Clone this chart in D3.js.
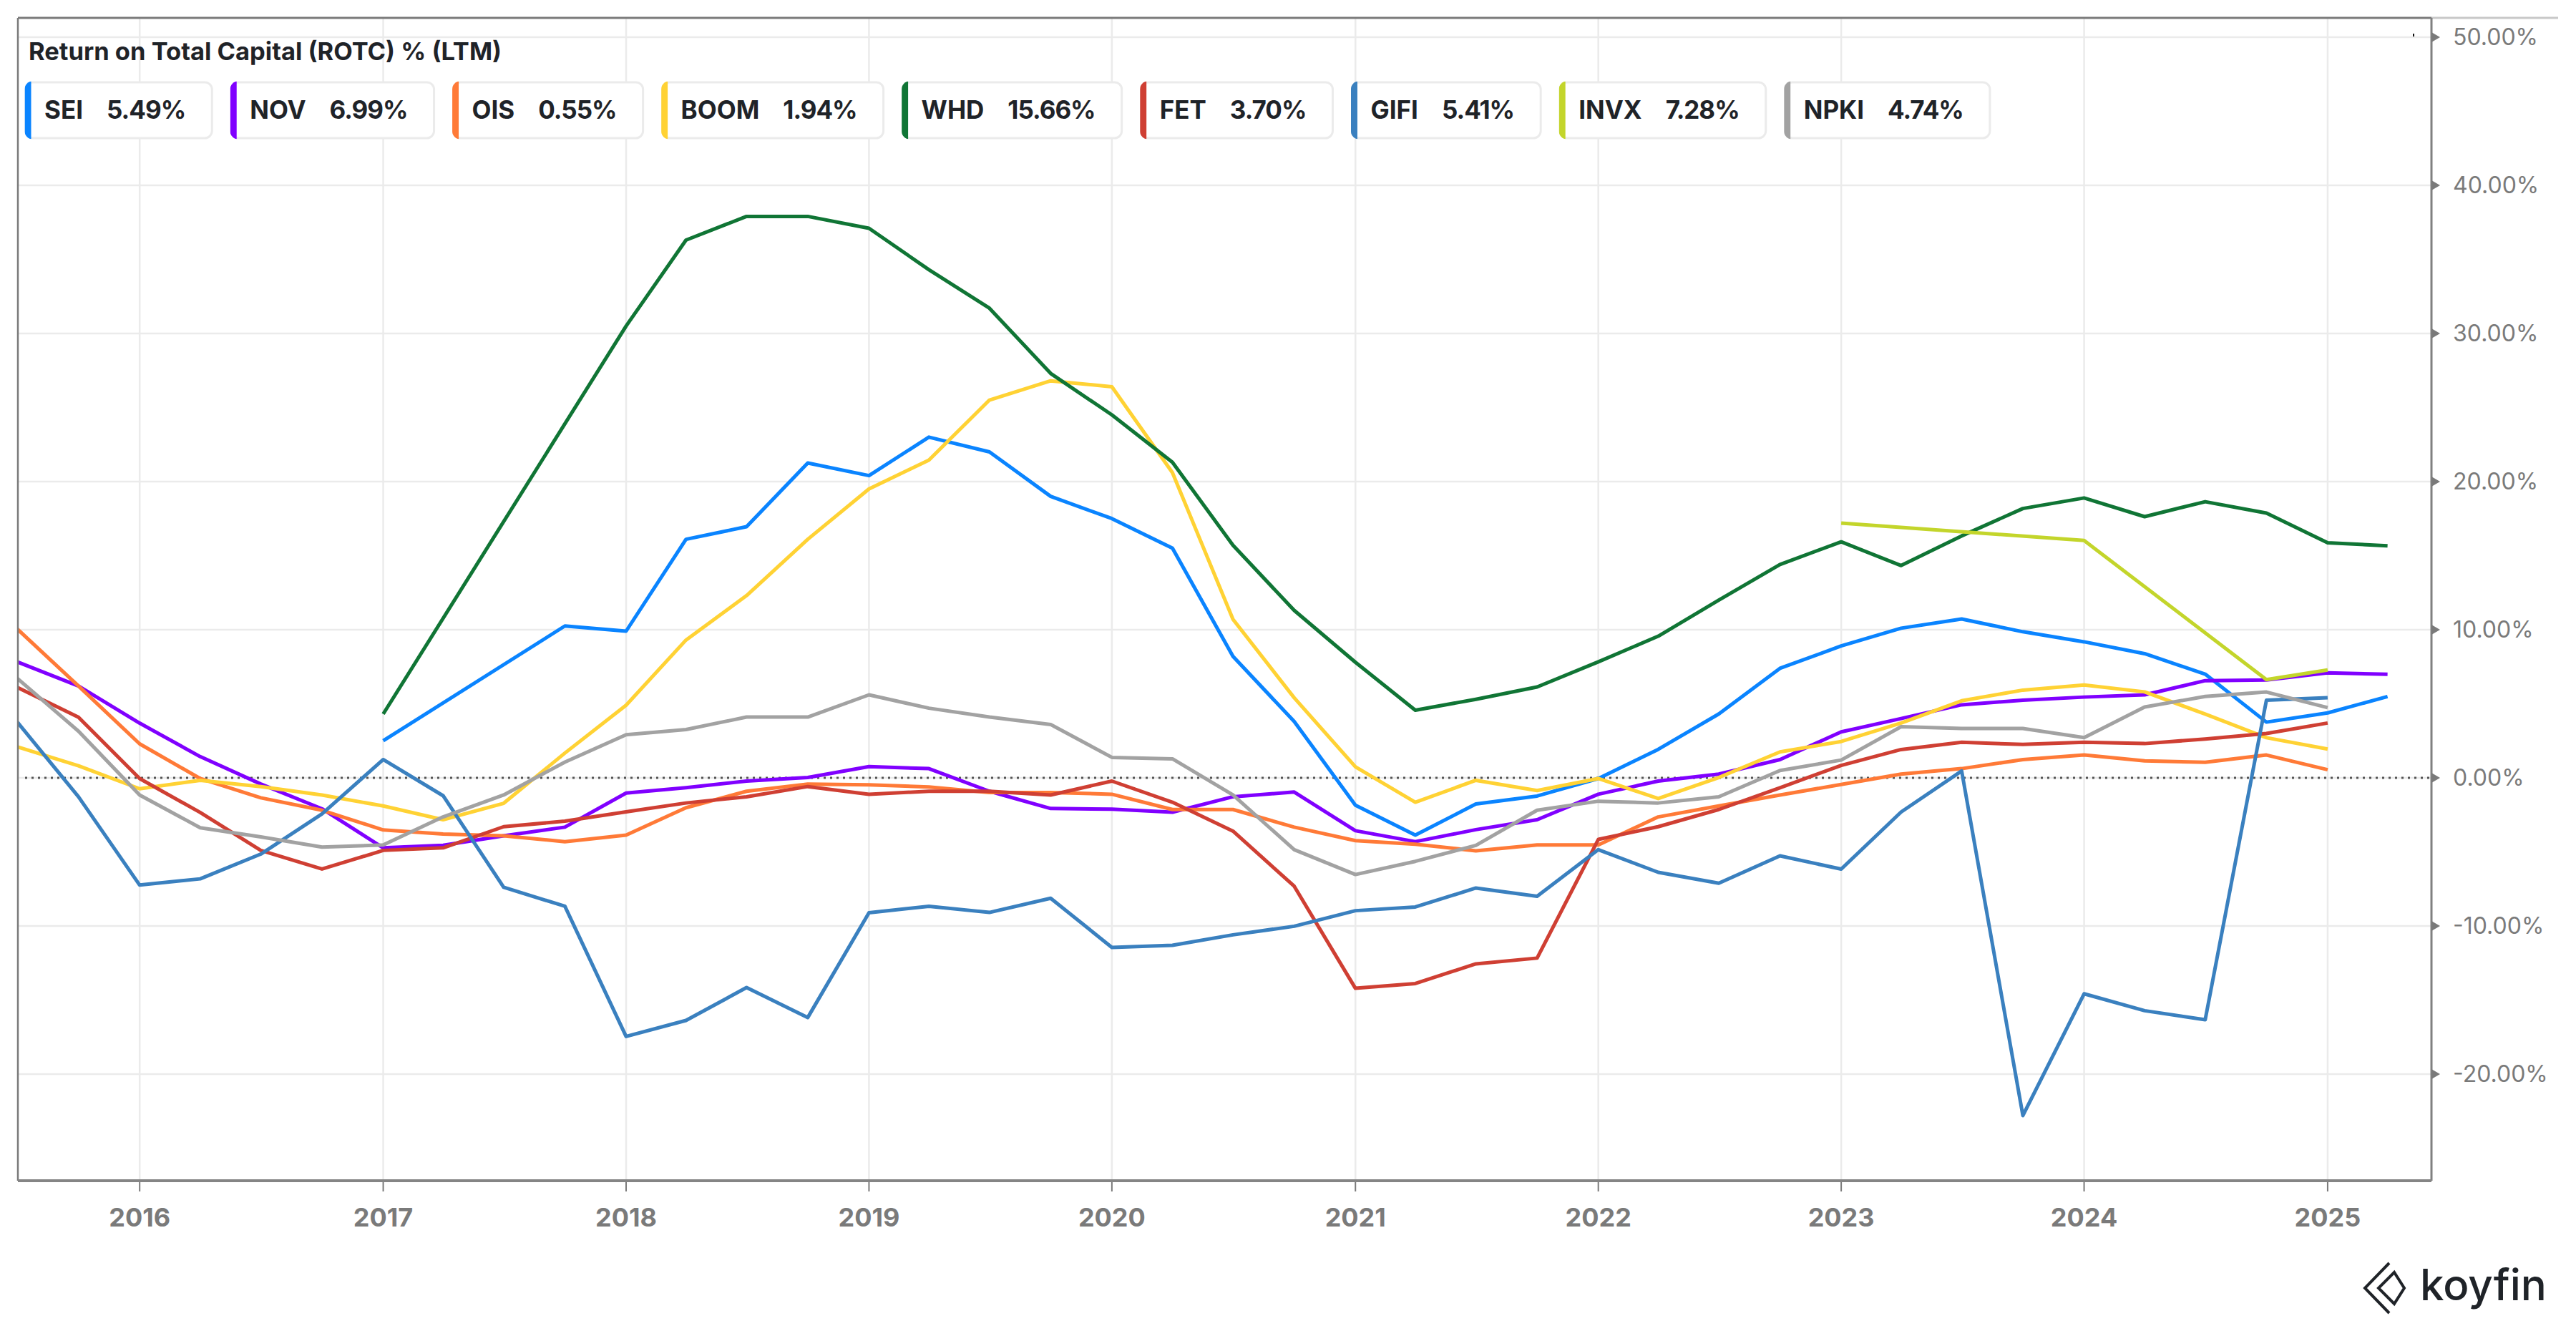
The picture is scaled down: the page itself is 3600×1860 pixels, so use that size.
<!DOCTYPE html>
<html>
  <head>
    <meta charset="utf-8">
    <title>Return on Total Capital (ROTC) % (LTM)</title>
    <script src="https://d3js.org/d3.v7.min.js"></script>
    <style>
      body { margin: 0; background: #fff; }
      svg { display: block; font-family: Inter, "Noto Sans", sans-serif; }
    </style>
  </head>
  <body>
    <svg id="chart" width="3600" height="1860"></svg>
    <script>
      // quarterly dates (LTM values)
      quarters = [
        "2015-07-01", "2015-10-01",
        "2016-01-01", "2016-04-01", "2016-07-01", "2016-10-01",
        "2017-01-01", "2017-04-01", "2017-07-01", "2017-10-01",
        "2018-01-01", "2018-04-01", "2018-07-01", "2018-10-01",
        "2019-01-01", "2019-04-01", "2019-07-01", "2019-10-01",
        "2020-01-01", "2020-04-01", "2020-07-01", "2020-10-01",
        "2021-01-01", "2021-04-01", "2021-07-01", "2021-10-01",
        "2022-01-01", "2022-04-01", "2022-07-01", "2022-10-01",
        "2023-01-01", "2023-04-01", "2023-07-01", "2023-10-01",
        "2024-01-01", "2024-04-01", "2024-07-01", "2024-10-01",
        "2025-01-01", "2025-04-01"
      ];
      tickers = ["SEI", "NOV", "OIS", "BOOM", "WHD", "FET", "GIFI", "INVX", "NPKI"];
      colors = ["#0a84ff", "#8000ff", "#ff7a37", "#ffd234", "#107535", "#cf3f33", "#3a80bf", "#c3d52b", "#a2a2a2"];
      // ROTC %, one value per quarter (null = no figure)
      SEI = [null, null, null, null, null, null, 2.5, null, null, 10.25,
        9.9, 16.1, 16.95, 21.25, 20.4, 23.0, 22.0, 19.0, 17.5, 15.5,
        8.2, 3.8, -1.85, -3.87, -1.77, -1.23, -0.05, 1.92, 4.31, 7.39,
        8.9, 10.1, 10.72, 9.86, 9.18, 8.38, 7.0, 3.76, 4.38, 5.49];
      NOV = [7.83, 6.2, 3.69, 1.43, -0.42, -2.09, -4.73, -4.56, -3.92, -3.33,
        -1.03, -0.67, -0.22, 0.02, 0.76, 0.62, -0.91, -2.07, -2.12, -2.32,
        -1.28, -0.96, -3.57, -4.31, -3.5, -2.83, -1.11, -0.22, 0.25, 1.23,
        3.1, 4.0, 4.93, 5.24, 5.45, 5.6, 6.56, 6.6, 7.09, 6.99];
      OIS = [10.05, 6.2, 2.29, -0.05, -1.35, -2.19, -3.52, -3.79, -3.92, -4.31,
        -3.87, -2.02, -0.91, -0.42, -0.47, -0.62, -0.99, -0.99, -1.11, -2.14,
        -2.14, -3.33, -4.24, -4.48, -4.93, -4.53, -4.53, -2.64, -1.9, -1.16,
        -0.45, 0.25, 0.62, 1.23, 1.54, 1.14, 1.05, 1.54, 0.55, null];
      BOOM = [2.09, 0.81, -0.74, -0.17, -0.59, -1.16, -1.9, -2.83, -1.72, 1.67,
        4.9, 9.3, 12.3, 16.1, 19.5, 21.45, 25.5, 26.8, 26.4, 20.6,
        10.7, 5.4, 0.74, -1.65, -0.17, -0.86, -0.05, -1.4, 0.02, 1.75,
        2.45, 3.7, 5.2, 5.92, 6.26, 5.8, 4.3, 2.71, 1.94, null];
      WHD = [null, null, null, null, null, null, 4.31, null, null, null,
        30.5, 36.3, 37.9, 37.9, 37.1, 34.3, 31.7, 27.3, 24.5, 21.3,
        15.7, 11.3, 7.8, 4.56, 5.3, 6.13, 7.83, 9.56, 12.0, 14.4,
        15.93, 14.33, 16.33, 18.18, 18.89, 17.63, 18.64, 17.87, 15.87, 15.66];
      FET = [6.11, 4.09, -0.05, -2.34, -4.9, -6.16, -4.9, -4.73, -3.3, -2.93,
        -2.3, -1.7, -1.28, -0.59, -1.11, -0.91, -0.91, -1.16, -0.22, -1.65,
        -3.6, -7.32, -14.21, -13.89, -12.56, -12.17, -4.16, -3.3, -2.14, -0.67,
        0.84, 1.91, 2.4, 2.25, 2.4, 2.31, 2.62, 2.99, 3.7, null];
      GIFI = [3.77, -1.28, -7.24, -6.82, -5.15, -2.44, 1.23, -1.21, -7.39, -8.67,
        -17.46, -16.38, -14.16, -16.18, -9.11, -8.67, -9.09, -8.13, -11.45, -11.31,
        -10.6, -10.02, -8.97, -8.72, -7.44, -8.0, -4.85, -6.38, -7.12, -5.27,
        -6.16, -2.31, 0.46, -22.8, -14.58, -15.72, -16.33, 5.24, 5.41, null];
      INVX = [null, null, null, null, null, null, null, null, null, null,
        null, null, null, null, null, null, null, null, null, null,
        null, null, null, null, null, null, null, null, null, null,
        17.2, null, null, null, 16.02, null, null, 6.63, 7.28, null];
      NPKI = [6.72, 3.15, -1.16, -3.37, -3.99, -4.68, -4.53, -2.64, -1.16, 1.06,
        2.91, 3.26, 4.1, 4.1, 5.6, 4.7, 4.1, 3.6, 1.38, 1.28,
        -1.16, -4.85, -6.53, -5.64, -4.56, -2.19, -1.58, -1.7, -1.28, 0.49,
        1.2, 3.45, 3.33, 3.33, 2.71, 4.78, 5.49, 5.79, 4.74, null];
      yTicks = [-20, -10, 0, 10, 20, 30, 40, 50];
      seriesValues = [SEI, NOV, OIS, BOOM, WHD, FET, GIFI, INVX, NPKI];

      // page elements
      svg = d3.select("#chart");
      left = 25; right = 3398; plotTop = 25; bottom = 1650;
      parseDate = d3.timeParse("%Y-%m-%d");
      dates = quarters.map(parseDate);
      x = d3.scaleTime()
        .domain([new Date(2015, 6, 2), new Date(2025, 5, 6)])
        .range([left, right]);
      y = d3.scaleLinear()
        .domain([-27.2, 51.3])
        .range([bottom, plotTop]);
      pct = function(v) { return d3.format(".2f")(v).replace("\u2212", "-") + "%"; };

      // grid
      grid = svg.append("g");
      years = x.ticks(d3.timeYear);
      grid.selectAll(".vgrid")
        .data(years)
        .enter().append("line")
          .attr("x1", function(d) { return x(d); })
          .attr("x2", function(d) { return x(d); })
          .attr("y1", plotTop).attr("y2", bottom)
          .attr("stroke", "#ebebeb").attr("stroke-width", 2.5);
      grid.selectAll(".hgrid")
        .data(yTicks)
        .enter().append("line")
          .attr("x1", left).attr("x2", right)
          .attr("y1", function(d) { return y(d); })
          .attr("y2", function(d) { return y(d); })
          .attr("stroke", "#ebebeb").attr("stroke-width", 2.5);
      svg.append("line")
        .attr("x1", left + 10).attr("x2", right)
        .attr("y1", y(0)).attr("y2", y(0))
        .attr("stroke", "#555").attr("stroke-width", 3)
        .attr("stroke-dasharray", "3,6");

      // lines
      svg.append("clipPath").attr("id", "plotClip")
        .append("rect")
          .attr("x", left).attr("y", plotTop)
          .attr("width", right - left).attr("height", bottom - plotTop);
      line = d3.line()
        .x(function(d) { return x(d.date); })
        .y(function(d) { return y(d.value); });
      series = tickers.map(function(t, i) {
        return {
          ticker: t,
          color: colors[i],
          points: seriesValues[i]
            .map(function(v, j) { return { date: dates[j], value: v }; })
            .filter(function(d) { return d.value !== null; })
        };
      });
      svg.append("g")
        .attr("clip-path", "url(#plotClip)")
        .selectAll("path")
          .data(series)
        .enter().append("path")
          .attr("fill", "none")
          .attr("stroke", function(d) { return d.color; })
          .attr("stroke-width", 5)
          .attr("stroke-linejoin", "round")
          .attr("d", function(d) { return line(d.points); });

      // frame
      frame = svg.append("g").attr("stroke", "#7a7a7a").attr("fill", "none");
      frame.append("line").attr("x1", right).attr("x2", 3575).attr("y1", plotTop).attr("y2", plotTop)
        .attr("stroke", "#c8c8c8").attr("stroke-width", 3);
      frame.append("line").attr("x1", left).attr("x2", right).attr("y1", plotTop).attr("y2", plotTop)
        .attr("stroke-width", 3);
      frame.append("line").attr("x1", left).attr("x2", left).attr("y1", plotTop).attr("y2", bottom)
        .attr("stroke-width", 2.5);
      frame.append("line").attr("x1", right).attr("x2", right).attr("y1", plotTop).attr("y2", bottom)
        .attr("stroke", "#808080").attr("stroke-width", 3);
      frame.append("line").attr("x1", left).attr("x2", right).attr("y1", bottom).attr("y2", bottom)
        .attr("stroke", "#858585").attr("stroke-width", 4);
      svg.append("rect").attr("x", 3372).attr("y", 47).attr("width", 2).attr("height", 4).attr("fill", "#111");

      // x axis
      xAxis = svg.append("g");
      xAxis.selectAll("line")
        .data(years)
        .enter().append("line")
          .attr("x1", function(d) { return x(d); })
          .attr("x2", function(d) { return x(d); })
          .attr("y1", bottom + 2).attr("y2", bottom + 15)
          .attr("stroke", "#7a7a7a").attr("stroke-width", 2);
      xAxis.selectAll("text")
        .data(years)
        .enter().append("text")
          .attr("x", function(d) { return x(d); })
          .attr("y", 1714)
          .attr("text-anchor", "middle")
          .attr("font-size", 36).attr("font-weight", 700)
          .attr("fill", "#7a7a7a")
          .text(d3.timeFormat("%Y"));

      // y axis (right)
      yAxis = svg.append("g");
      yAxis.selectAll("path")
        .data(yTicks)
        .enter().append("path")
          .attr("fill", "#7a7a7a")
          .attr("d", function(d) { return "M" + right + "," + (y(d) - 7) + "L" + (right + 12) + "," + y(d) + "L" + right + "," + (y(d) + 7) + "Z"; });
      yAxis.selectAll("text")
        .data(yTicks)
        .enter().append("text")
          .attr("x", 3428)
          .attr("y", function(d) { return y(d) + 11; })
          .attr("font-size", 32)
          .attr("fill", "#7a7a7a")
          .text(pct);

      // title
      svg.append("text")
        .attr("x", 40).attr("y", 84)
        .attr("font-size", 34.5).attr("font-weight", 700)
        .attr("fill", "#1f2328")
        .text("Return on Total Capital (ROTC) % (LTM)");

      // legend
      legend = svg.append("g");
      let boxX = 36;
      const boxY = 115, boxH = 78;
      series.forEach(function(s, i) {
        const g = legend.append("g");
        const last = s.points[s.points.length - 1].value;
        const label = g.append("text").attr("y", 166).attr("font-size", 35).attr("font-weight", 700)
          .attr("fill", "#1f2328").text(s.ticker);
        const val = g.append("text").attr("y", 166).attr("font-size", 35).attr("font-weight", 700)
          .attr("letter-spacing", -1)
          .attr("fill", "#1f2328").text(pct(last));
        const labelW = label.node().getComputedTextLength();
        const valW = val.node().getComputedTextLength();
        const w = 26 + labelW + 33 + valW + 37;
        label.attr("x", boxX + 26);
        val.attr("x", boxX + 26 + labelW + 33);
        g.insert("rect", "text")
          .attr("x", boxX).attr("y", boxY).attr("width", w).attr("height", boxH)
          .attr("rx", 10).attr("fill", "#fff").attr("stroke", "#ebebeb").attr("stroke-width", 3);
        g.append("clipPath").attr("id", "lg" + i)
          .append("rect").attr("x", boxX - 1.5).attr("y", boxY - 1.5)
            .attr("width", w + 3).attr("height", boxH + 3).attr("rx", 11);
        g.append("rect")
          .attr("clip-path", "url(#lg" + i + ")")
          .attr("x", boxX - 1.5).attr("y", boxY - 1.5).attr("width", 9).attr("height", boxH + 3)
          .attr("fill", s.color);
        boxX += w + 27;
      });

      // logo
      logo = svg.append("g");
      logo.append("path")
        .attr("fill", "none").attr("stroke", "#1f2328").attr("stroke-width", 4).attr("stroke-linejoin", "miter")
        .attr("d", "M3339,1765 L3305,1800 L3339,1835 M3346,1778 L3324,1800 L3346,1822 L3360,1800 Z");
      logo.append("text")
        .attr("x", 3382).attr("y", 1817)
        .attr("font-size", 60).attr("font-weight", 500)
        .attr("fill", "#1f2328")
        .text("koyfin");
    </script>
  </body>
</html>
